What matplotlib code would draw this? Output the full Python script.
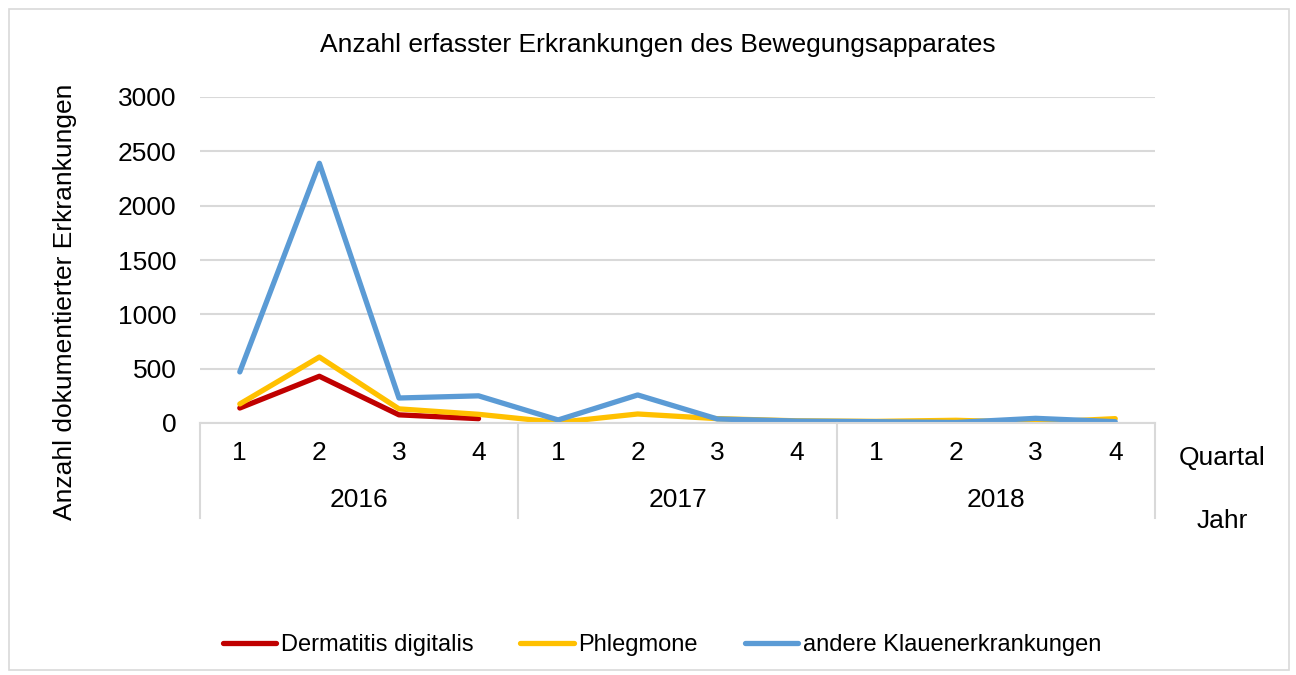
import numpy as np
import matplotlib.pyplot as plt
import matplotlib.transforms as mtransforms
from matplotlib.patches import Rectangle

plt.rcParams['font.family'] = ['Liberation Sans', 'DejaVu Sans']

years = ['2016', '2017', '2018']
quarters = ['1', '2', '3', '4']
dermatitis = [138, 430, 75, 40]
phlegmone = [175, 607, 130, 80, 5, 83, 40, 20, 15, 25, 5, 40]
andere = [470, 2390, 230, 250, 28, 258, 37, 18, 12, 5, 43, 12]

W, H = 1296, 675
fig = plt.figure(figsize=(W / 100, H / 100), dpi=100)
ax = fig.add_axes([200 / W, 1 - 423 / H, 955 / W, 326 / H])

x = np.arange(len(andere))
ax.plot(np.arange(len(dermatitis)), dermatitis, color='#C00000', lw=3.8,
        solid_capstyle='round', solid_joinstyle='round', label='Dermatitis digitalis')
ax.plot(x, phlegmone, color='#FFC000', lw=3.8,
        solid_capstyle='round', solid_joinstyle='round', label='Phlegmone')
ax.plot(x, andere, color='#5B9BD5', lw=3.8,
        solid_capstyle='round', solid_joinstyle='round', label='andere Klauenerkrankungen')

ax.set_xlim(-0.5, 11.5)
ax.set_ylim(0, 3000)
ax.set_yticks(np.arange(0, 3001, 500))
ax.grid(axis='y', color='#D9D9D9', lw=1.5)
ax.set_axisbelow(True)
for s in ['top', 'right', 'left']:
    ax.spines[s].set_visible(False)
ax.spines['bottom'].set_color('#D9D9D9')
ax.spines['bottom'].set_linewidth(1.5)
ax.tick_params(axis='y', length=0, labelsize=19, pad=17)
ax.set_xticks([])

# multi-level category axis
trans = mtransforms.blended_transform_factory(ax.transData, ax.transAxes)
for i in range(len(andere)):
    ax.text(i, -30 / 326, quarters[i % 4], transform=trans, ha='center', va='center',
            fontsize=19)
for j, yr in enumerate(years):
    ax.text(4 * j + 1.5, -77 / 326, yr, transform=trans, ha='center', va='center',
            fontsize=19)
for xb in [-0.5, 3.5, 7.5, 11.5]:
    ax.plot([xb, xb], [0, -95 / 326], transform=trans, color='#D9D9D9', lw=1.5,
            clip_on=False)

fig.text(1222 / W, 1 - 458 / H, 'Quartal', ha='center', va='center', fontsize=19)
fig.text(1222 / W, 1 - 521 / H, 'Jahr', ha='center', va='center', fontsize=19)
fig.text(65 / W, 1 - 302 / H, 'Anzahl dokumentierter Erkrankungen', rotation=90,
         ha='center', va='center', fontsize=19)
fig.text(658 / W, 1 - 45 / H, 'Anzahl erfasster Erkrankungen des Bewegungsapparates',
         ha='center', va='center', fontsize=19)

fig.legend(loc='center', bbox_to_anchor=(662 / W, 1 - 645 / H), ncol=3, frameon=False,
           fontsize=17, handlelength=2.25, handletextpad=0.2, columnspacing=2.0)

fig.patches.append(Rectangle((9 / W, 5 / H), 1280 / W, 661 / H, transform=fig.transFigure,
                             fill=False, edgecolor='#D9D9D9', lw=1.2))

fig.savefig('out.png', dpi=100)
